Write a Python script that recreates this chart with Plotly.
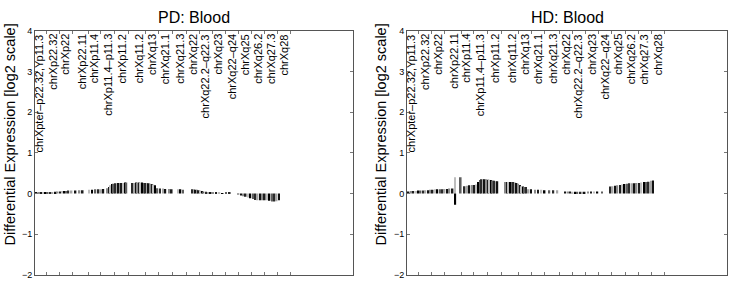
import plotly.graph_objects as go

# Cytoband labels and their positions along chrX (Mb)
band_labels = ["chrXpter\u2013p22.32,Yp11.3", "chrXp22.32", "chrXp22", "chrXp22.11",
               "chrXp11.4", "chrXp11.4\u2013p11.3", "chrXp11.2", "chrXq11.2", "chrXq13",
               "chrXq21.1", "chrXq21.3", "chrXq22", "chrXq22.2\u2013q22.3", "chrXq23",
               "chrXq22\u2013q24", "chrXq25", "chrXq26.2", "chrXq27.3", "chrXq28"]
band_pos = [7.1, 15.5, 23.3, 33.8, 41.3, 50.1, 59.0, 69.6, 77.6, 86.2, 95.4,
            103.3, 111.5, 119.5, 128.1, 136.3, 144.5, 152.7, 161.0]

# PD: Blood
pd_pos = [1, 2.5, 4,
          5, 6.5, 8, 9.5, 11,
          13, 14.3, 15.6, 17, 18.3, 19.6, 21,
          23, 25.5, 28, 30,
          34, 36, 38, 40, 41.5, 43,
          45.5, 46.5, 47.5, 48.5, 49.5, 50.5, 51.5, 52.5, 53.5, 54.5, 55.5, 56.5, 57.5,
          61.5, 62.5, 63.5, 64.5, 65.5, 66.5, 67.5, 68.5, 69.5, 70.5, 71.5, 72.5, 73.5, 74.5, 75.5,
          77, 78.5, 80.5, 82, 84.5, 86,
          90, 91.5, 93,
          99, 100, 101, 102, 103, 104, 105, 106, 107.5, 109, 110.5, 112,
          114, 116, 118, 120, 122.5,
          128, 129.5, 131, 132.5, 134,
          135.5, 137, 138.5, 140, 141.5, 143, 144.5, 146, 147.5, 149, 150.5, 152, 153.5]
pd_val = [0.01, 0.01, 0.01,
          0.02, 0.02, 0.03, 0.03, 0.03,
          0.04, 0.05, 0.05, 0.06, 0.06, 0.06, 0.07,
          0.07, 0.07, 0.08, 0.08,
          0.09, 0.09, 0.10, 0.10, 0.10, 0.11,
          0.13, 0.16, 0.20, 0.23, 0.24, 0.25, 0.25, 0.26, 0.26, 0.26, 0.26, 0.27, 0.27,
          0.26, 0.26, 0.27, 0.27, 0.27, 0.27, 0.27, 0.26, 0.26, 0.26, 0.25, 0.24, 0.23, 0.22, 0.20,
          0.13, 0.12, 0.12, 0.11, 0.11, 0.10,
          0.10, 0.10, 0.09,
          0.10, 0.10, 0.09, 0.09, 0.08, 0.07, 0.06, 0.05, 0.04, 0.03, 0.02, 0.02,
          0.01, 0.01, -0.01, 0.01, 0.01,
          -0.03, -0.05, -0.07, -0.08, -0.10,
          -0.12, -0.14, -0.16, -0.17, -0.17, -0.17, -0.17, -0.17, -0.18, -0.20, -0.20, -0.19, -0.17]

# HD: Blood
hd_pos = [1, 2.5, 4, 5.5, 7, 8.5, 10, 11.5, 13, 14.5, 16, 17.5, 19, 20.5, 22, 23.5, 25, 26.5,
          28.5, 30, 30.2, 33.6,
          36, 37.5, 39, 40.5, 42, 43.5,
          44.5, 45.5, 46.5, 47.5, 48.5, 49.5, 50.5, 51.5, 52.5, 53.5, 54.5, 55.5, 56.5,
          61.5, 62.5, 63.5, 64.5, 65.5, 66.5, 67.5, 68.5, 69.5, 70.5, 71.5, 72.5, 73.5, 74.5,
          76, 77.5, 80, 82, 84, 86,
          89, 91.5, 94,
          99, 100.5, 102, 103.5, 105, 106.5, 108, 109.5, 111, 113, 115, 117, 119, 122,
          127, 128.5, 130, 131.5, 133, 134.5, 136, 137.5, 139, 140.5, 142, 143.5, 145, 146.5,
          148, 149.5, 151, 152.5, 153.8]
hd_val = [0.05, 0.06, 0.06, 0.06, 0.07, 0.07, 0.07, 0.08, 0.08, 0.09, 0.09, 0.10, 0.10, 0.10,
          0.10, 0.11, 0.11, 0.12,
          0.12, 0.40, -0.28, 0.40,
          0.18, 0.19, 0.20, 0.21, 0.21, 0.22,
          0.28, 0.33, 0.35, 0.35, 0.35, 0.35, 0.34, 0.34, 0.33, 0.32, 0.31, 0.30, 0.30,
          0.28, 0.28, 0.28, 0.28, 0.28, 0.28, 0.27, 0.26, 0.24, 0.21, 0.18, 0.17, 0.16, 0.16,
          0.10, 0.10, 0.09, 0.09, 0.09, 0.08,
          0.08, 0.08, 0.08,
          0.05, 0.05, 0.05, 0.04, 0.04, 0.04, 0.04, 0.04, 0.04, 0.05, 0.05, 0.05, 0.05, 0.05,
          0.17, 0.18, 0.19, 0.20, 0.21, 0.22, 0.23, 0.24, 0.25, 0.25, 0.25, 0.26, 0.26, 0.27,
          0.28, 0.28, 0.29, 0.31, 0.32]

panel_titles = ["PD: Blood", "HD: Blood"]
y_title = "Differential Expression [log2 scale]"

palette = ["#111111", "#8a8a8a", "#1e1e1e", "#bdbdbd", "#000000", "#5e5e5e", "#2a2a2a", "#a5a5a5"]
FONT = "Liberation Sans, Arial, sans-serif"

fig = go.Figure()
for i, (xs, ys) in enumerate([(pd_pos, pd_val), (hd_pos, hd_val)]):
    cols = [palette[k % len(palette)] for k in range(len(xs))]
    fig.add_trace(go.Bar(x=xs, y=ys, width=[1.0] * len(xs),
                         marker=dict(color=cols, line=dict(width=0)),
                         xaxis="x" if i == 0 else "x2", yaxis="y" if i == 0 else "y2",
                         showlegend=False))

doms = [[35 / 729, 353 / 729], [407 / 729, 727 / 729]]
ydom = [1 - 279 / 297, 1 - 27 / 297]
axis_common = dict(showline=True, linecolor="#555555", linewidth=1, mirror="ticks",
                   ticks="inside", ticklen=3, tickcolor="#777777", showgrid=False, zeroline=False)

layout = dict(width=729, height=297, margin=dict(l=0, r=0, t=0, b=0),
              plot_bgcolor="white", paper_bgcolor="white", barmode="overlay",
              font=dict(family=FONT, color="#000"))
for i in range(2):
    sx = "" if i == 0 else "2"
    layout["xaxis" + sx] = dict(domain=doms[i], range=[0, 200], tickvals=band_pos,
                                showticklabels=False, anchor="y" + sx, **axis_common)
    layout["yaxis" + sx] = dict(domain=ydom, range=[-2, 4], dtick=1, tick0=0,
                                tickfont=dict(size=9), anchor="x" + sx, **axis_common)
fig.update_layout(**layout)

ann = []
for i in range(2):
    sx = "" if i == 0 else "2"
    for lab, p in zip(band_labels, band_pos):
        ann.append(dict(x=p, y=4, xref="x" + sx, yref="y" + sx, text=lab, textangle=-90,
                        xanchor="right", yanchor="top", showarrow=False, xshift=1, yshift=-1,
                        font=dict(size=11, family=FONT)))
    cx = (doms[i][0] + doms[i][1]) / 2
    ann.append(dict(x=cx, y=1 - 13 / 297, xref="paper", yref="paper", text=panel_titles[i],
                    showarrow=False, xanchor="center", yanchor="middle",
                    font=dict(size=16, family=FONT)))
    ann.append(dict(x=(10 if i == 0 else 381) / 729, y=1 - 134 / 297, xref="paper", yref="paper",
                    text=y_title, textangle=-90, showarrow=False, xanchor="center",
                    yanchor="middle", font=dict(size=14.5, family=FONT)))
fig.update_layout(annotations=ann)

fig.write_html("out.html", config={"displayModeBar": False},
               post_script="document.body.style.margin='0';document.body.style.overflow='hidden';")
